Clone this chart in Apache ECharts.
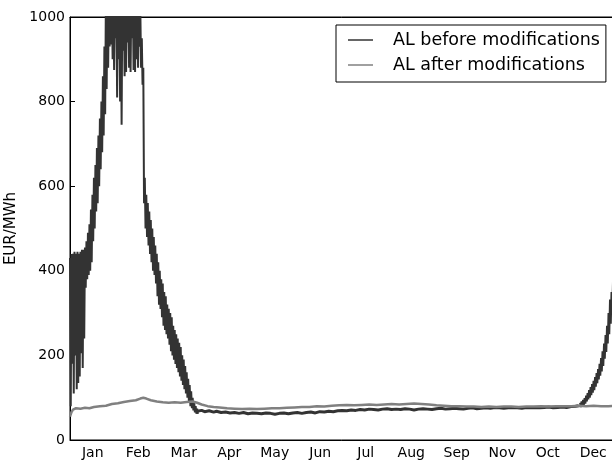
<!DOCTYPE html>
<html>
<head>
<meta charset="utf-8">
<script src="https://cdn.jsdelivr.net/npm/echarts@6/dist/echarts.min.js"></script>
<style>
  html, body { margin: 0; padding: 0; background: #fff; }
  #chart { width: 612px; height: 463px; }
</style>
</head>
<body>
<div id="chart"></div>
<script>
  // month tick labels (as printed in the source figure)
  const months = ['Jan', 'Feb', 'Mar', 'Apr', 'May', 'Jun', 'Jul', 'Aug', 'Sep', 'Nov', 'Oct', 'Dec'];

  // AL before modifications: daily high / low envelope, Jan - Mar
  const springDays = [0,1,2,3,4,5,6,7,8,9,10,11,12,13,14,15,16,17,18,19,20,21,22,23,24,25,26,27,28,29,
    30,31,32,33,34,35,36,37,38,39,40,41,42,43,44,45,46,47,48,49,50,51,52,53,54,55,56,57,58,59,
    60,61,62,63,64,65,66,67,68,69,70,71,72,73,74,75,76,77,78,79,80,81,82,83,84,85];
  const springHigh = [430,440,440,445,440,445,440,445,450,450,455,470,490,510,545,580,620,650,690,720,
    760,800,860,930,1050,1050,1050,1050,1050,1050,1050,1050,1050,1050,1050,1050,1050,1050,1050,1050,
    1050,1050,1050,1050,1050,1050,1050,1020,950,880,620,580,560,540,520,500,480,460,440,420,
    400,380,370,350,340,320,310,300,290,270,260,250,240,230,220,200,190,175,160,145,130,115,100,90,80,74];
  const springLow = [80,180,110,200,120,135,150,205,170,240,360,380,390,400,420,470,500,540,560,600,
    640,680,720,770,830,880,930,935,900,875,950,810,900,800,745,920,860,870,940,880,
    870,950,875,870,900,880,930,880,840,560,500,480,460,440,420,400,390,370,340,320,
    310,290,270,260,250,240,225,210,200,190,180,170,160,150,140,130,120,110,100,90,80,75,70,65,62,62];

  // AL before modifications: flat part, Apr - Nov (read along the middle of the trace)
  const flatDays = [85,88,90,93,96,98,101,104,107,110,113,116,119,122,125,128,131,134,137,140,
    143,146,149,152,155,158,161,164,167,170,173,176,179,182,185,188,191,194,197,200,
    203,206,209,212,215,218,221,224,227,230,233,236,239,242,245,248,251,254,257,260,
    263,266,269,272,275,278,281,284,287,290,293,296,299,302,305,308,311,314,317,320,
    323,326,329,332,335,338,340];
  const flatValues = [68,70,67,69,66,68,65,66,64,65,63,65,62,64,63,62,64,63,61,63,
    64,62,64,65,63,65,66,64,67,66,68,67,69,70,69,71,70,72,71,73,
    72,71,73,74,72,73,72,74,73,71,73,74,73,72,74,75,73,74,75,74,
    73,75,76,74,75,76,75,77,76,75,76,77,76,75,77,76,77,76,77,78,
    76,77,78,77,79,80,81];

  // AL before modifications: December rise
  const decDays = [341,342,343,344,345,346,347,348,349,350,351,352,353,354,355,356,357,358,359,360,361,362,363,364,365];
  const decHigh = [88,91,95,99,105,111,118,125,132,140,149,158,168,180,194,210,228,248,270,300,332,350,375,400,420];
  const decLow = [78,80,83,86,91,96,100,106,112,118,126,134,143,152,162,175,192,208,228,250,275,300,325,350,375];

  // AL after modifications
  const afterDays = [0,1,2,4,7,10,13,16,20,24,28,32,36,40,44,47,49,51,54,58,62,66,70,74,78,82,85,88,92,96,
    100,105,110,115,120,125,130,135,140,145,150,155,160,165,170,175,180,185,190,195,200,205,210,215,220,
    225,230,235,240,245,250,255,260,265,270,275,280,285,290,295,300,305,310,315,320,325,330,335,340,345,
    350,355,360,365];
  const afterValues = [55,66,72,75,74,76,75,78,80,81,85,87,90,92,94,98,100,98,94,91,89,88,89,88,90,91,88,84,80,78,
    77,75,74,73,74,73,74,75,75,76,77,78,78,80,79,81,82,83,82,83,84,83,84,85,84,
    85,86,85,84,82,81,80,80,79,79,78,79,78,79,79,78,79,79,80,79,80,80,80,81,80,
    81,80,80,81];

  // high/low pairs drawn as one jagged line
  function band(days, hi, lo) {
    const out = [];
    for (let i = 0; i < days.length; i++) {
      out.push([days[i], hi[i]]);
      out.push([days[i] + 0.5, lo[i]]);
    }
    return out;
  }
  const springData = band(springDays, springHigh, springLow);
  const flatData = flatDays.map((d, i) => [d, flatValues[i]]);
  const decData = band(decDays, decHigh, decLow);
  const afterData = afterDays.map((d, i) => [d, afterValues[i]]);

  const font = 'DejaVu Sans';
  const dark = '#333333';
  const grey = '#808080';
  const chart = echarts.init(document.getElementById('chart'));
  chart.setOption({
    animation: false,
    grid: {
      left: 70, top: 17, width: 546, height: 423,
      containLabel: false, outerBoundsMode: 'none',
      show: true, borderColor: '#000', borderWidth: 1, backgroundColor: '#fff'
    },
    legend: {
      data: [
        { name: 'AL before modifications', icon: 'rect', itemStyle: { color: dark } },
        { name: 'AL after modifications', icon: 'rect', itemStyle: { color: grey } }
      ],
      orient: 'vertical',
      left: 336, top: 25,
      padding: [5, 6, 7, 12],
      itemGap: 5,
      itemWidth: 25, itemHeight: 1.5,
      backgroundColor: '#fff',
      borderColor: '#000', borderWidth: 1, borderRadius: 0,
      textStyle: { fontFamily: font, fontSize: 17.5, color: '#000', padding: [0, 0, 0, 15], lineHeight: 20 }
    },
    xAxis: [
      {
        type: 'category', data: months, position: 'bottom', boundaryGap: true,
        axisLine: { lineStyle: { color: '#000' } },
        axisTick: { inside: true, alignWithLabel: true, length: 5, lineStyle: { color: '#000' } },
        axisLabel: { fontFamily: font, fontSize: 14, color: '#000', margin: 6 },
        splitLine: { show: false }
      },
      {
        type: 'category', data: months, position: 'top', boundaryGap: true,
        axisLine: { lineStyle: { color: '#000' } },
        axisTick: { inside: true, alignWithLabel: true, length: 5, lineStyle: { color: '#000' } },
        axisLabel: { show: false },
        splitLine: { show: false }
      },
      {
        type: 'value', min: 0, max: 365, show: false
      }
    ],
    yAxis: {
      type: 'value', min: 0, max: 1000, interval: 200,
      name: 'EUR/MWh', nameLocation: 'middle', nameGap: 46, nameRotate: 90,
      nameTextStyle: { fontFamily: font, fontSize: 15, color: '#000' },
      axisLine: { show: true, lineStyle: { color: '#000' } },
      axisTick: { show: true, inside: true, length: 5, lineStyle: { color: '#000' } },
      axisLabel: { fontFamily: font, fontSize: 14, color: '#000', margin: 5, formatter: v => String(v) },
      splitLine: { show: false }
    },
    series: [
      {
        name: 'AL before modifications', type: 'line', xAxisIndex: 2,
        data: springData, symbol: 'none', clip: true,
        lineStyle: { color: dark, width: 2 }, itemStyle: { color: dark }
      },
      {
        name: 'AL before modifications', type: 'line', xAxisIndex: 2,
        data: flatData, symbol: 'none', clip: true,
        lineStyle: { color: dark, width: 3 }, itemStyle: { color: dark }
      },
      {
        name: 'AL before modifications', type: 'line', xAxisIndex: 2,
        data: decData, symbol: 'none', clip: true,
        lineStyle: { color: dark, width: 2 }, itemStyle: { color: dark }
      },
      {
        name: 'AL after modifications', type: 'line', xAxisIndex: 2,
        data: afterData, symbol: 'none', clip: true,
        lineStyle: { color: grey, width: 2.5 }, itemStyle: { color: grey }
      }
    ]
  });
</script>
</body>
</html>
